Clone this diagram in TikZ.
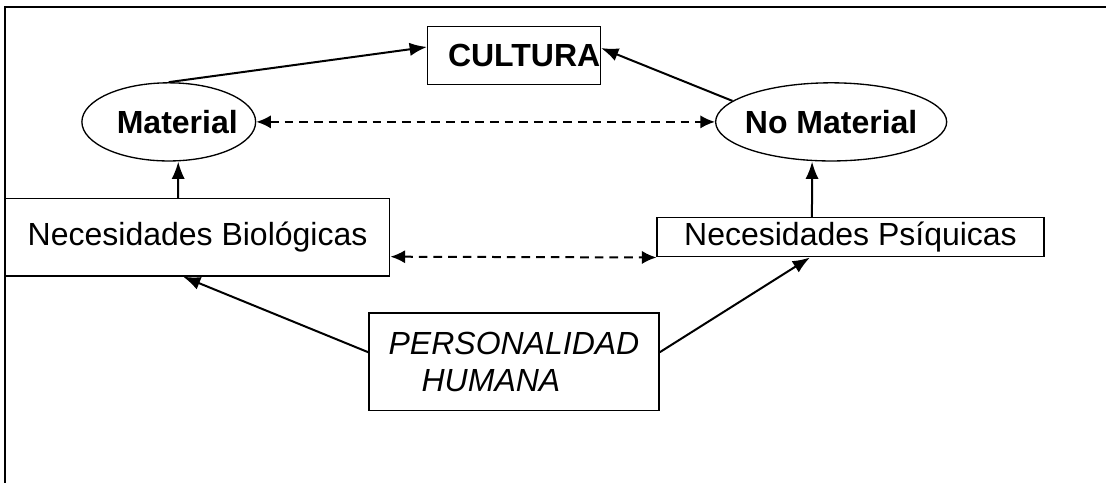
\documentclass[tikz,border=0pt]{standalone}
\usepackage{fontspec}
\setmainfont{Liberation Sans}
\usetikzlibrary{shapes, arrows.meta}
\newcommand{\tamano}{\fontsize{24}{27.75}\selectfont}
\tikzstyle{titulo} = [rectangle, draw=black, line width=1.1pt, text width=4.55cm, minimum height=1.53cm, inner sep=0pt, align=right, font=\tamano\bfseries]
\tikzstyle{ovalo} = [ellipse, draw=black, line width=1pt, minimum height=2.06cm, inner xsep=-0.4cm, inner ysep=0pt, font=\tamano\bfseries]
\tikzstyle{caja} = [rectangle, draw=black, line width=1.1pt, inner sep=0pt, text centered, font=\tamano]
\tikzstyle{line} = [draw, line width=1.5pt, -{Latex[length=13pt, width=10pt]}]
\tikzstyle{dline} = [draw, line width=1.5pt, dash pattern=on 6.5pt off 4.5pt, {Latex[length=11pt, width=10pt]}-{Latex[length=11pt, width=10pt]}]

\begin{document}
\begin{tikzpicture}[node distance=3cm]
            \useasboundingbox (-385.5pt,-319.875pt) rectangle (444pt,41.625pt);
            \draw[line width=1.6pt] (-381.75pt,-330pt) |- (450pt,36.4pt);

            % Nodes
            % Top
            \node (cultura) [titulo] {CULTURA};
            \node (material) [ovalo, minimum width=4.58cm, left of=cultura, xshift=-6.1cm, yshift=-1.75cm] {\hspace*{0.45cm}Material};
            \node (nomaterial) [ovalo, minimum width=6.09cm, right of=cultura, xshift=5.36cm, yshift=-1.75cm] {No Material};

            % Middle
            \node (nbio) [caja, minimum width=10.13cm, minimum height=2.04cm, below of=material, xshift=0.76cm, yshift=-0.04cm] {Necesidades Biológicas};
            \node (npsi) [caja, minimum width=10.19cm, minimum height=1.03cm, below of=nomaterial, xshift=0.51cm, yshift=-0.04cm] {Necesidades Psíquicas};

            % Bottom
            \node (persona) [caja, minimum width=7.65cm, minimum height=2.57cm, below of=cultura, yshift=-5.07cm, align=left, font=\tamano\itshape] {PERSONALIDAD\\\hspace*{0.87cm}HUMANA};

            % Draw lines
            \path [line] (material.north) -- ([yshift=6.4pt] cultura.west);
            \path [line] (nomaterial.168) -- ([yshift=5.6pt] cultura.east);
            \path [dline] (material.east) -- (nomaterial.west);
            \path [line] ([xshift=-14.6pt] nbio.north) -- ([xshift=7.1pt] material.south);
            \path [line] ([xshift=-28.9pt] npsi.north) -- ([xshift=-14.3pt] nomaterial.south);
            \path [dline] ([yshift=-14.6pt] nbio.east) -- (npsi.south west);
            \path [line] ([yshift=7.1pt] persona.west) -- ([xshift=-10.9pt] nbio.south);
            \path [line] ([yshift=7.1pt] persona.east) -- ([xshift=-30.4pt] npsi.south);
\end{tikzpicture}
\end{document}
